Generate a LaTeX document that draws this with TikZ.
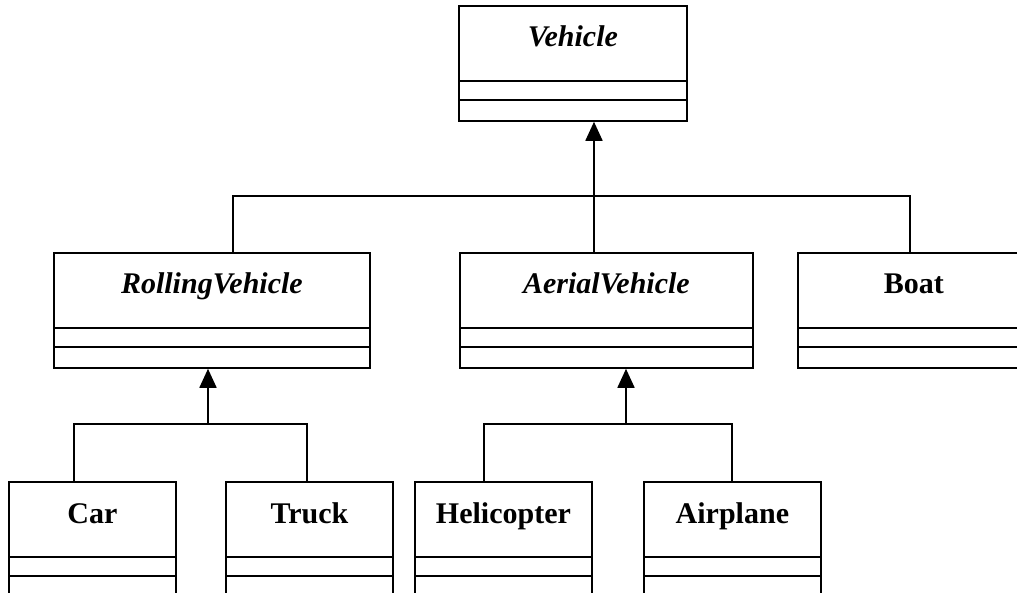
\documentclass[tikz,border=0pt]{standalone}
\usepackage{fontspec}
\setmainfont{Liberation Serif}
\usetikzlibrary{arrows.meta,calc}
\tikzset{
	classbox/.style={draw, rectangle, minimum height=115pt, inner sep=0pt, anchor=north west},
	classname/.style={anchor=base, inner sep=0pt, font=\fontsize{30}{36}\selectfont\bfseries},
	genarrow/.style={-{Triangle[length=19pt,width=17pt]}}
}
% a class box: name, x, y, width, title
\newcommand{\umlclass}[5]{%
	\node[classbox, minimum width=#4pt] (#1) at (#2,#3) {};
	\node[classname] (#1-title) at ([yshift=-42pt]#1.north) {#5};
	\draw ([yshift=-76pt]#1.north west) -- ([yshift=-76pt]#1.north east);
	\draw ([yshift=-95pt]#1.north west) -- ([yshift=-95pt]#1.north east);
}
\begin{document}
\begin{tikzpicture}[x=1pt, y=-1pt, line width=1.8pt]

			\useasboundingbox (0,0) rectangle (1017,593);
			\clip (0,0) rectangle (1017,593);

			% Draw the classes
			\umlclass{veh}{458}{5}{228}{\itshape Vehicle}
			\umlclass{roll}{53}{252}{316}{\itshape RollingVehicle}
			\umlclass{aer}{459}{252}{293}{\itshape AerialVehicle}
			\umlclass{boat}{797}{252}{232}{Boat}
			\umlclass{car}{8}{481}{167}{Car}
			\umlclass{truck}{225}{481}{167}{Truck}
			\umlclass{heli}{414}{481}{177}{Helicopter}
			\umlclass{plane}{643}{481}{177}{Airplane}

			% Draw the hubs of the generalisations
			\coordinate (vhub) at (594,196);
			\coordinate (rollin) at (233,196);
			\coordinate (boatin) at (910,196);
			\coordinate (rhub) at (208,424);
			\coordinate (carin) at (74,424);
			\coordinate (truckin) at (307,424);
			\coordinate (ahub) at (626,424);
			\coordinate (heliin) at (484,424);
			\coordinate (planein) at (732,424);

			% Draw the generalisations
			\draw (rollin |- roll.north) -- (rollin) -- (boatin) -- (boatin |- boat.north);
			\draw[genarrow] (vhub |- aer.north) -- (vhub |- veh.south);
			\draw (carin |- car.north) -- (carin) -- (truckin) -- (truckin |- truck.north);
			\draw[genarrow] (rhub) -- (rhub |- roll.south);
			\draw (heliin |- heli.north) -- (heliin) -- (planein) -- (planein |- plane.north);
			\draw[genarrow] (ahub) -- (ahub |- aer.south);
		\end{tikzpicture}
\end{document}
